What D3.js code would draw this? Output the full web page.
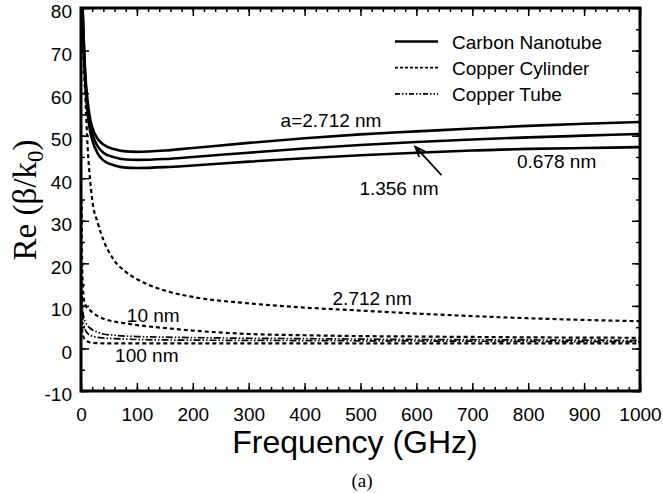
<!DOCTYPE html>
<html>
<head>
<meta charset="utf-8">
<script src="https://cdn.jsdelivr.net/npm/d3@7"></script>
<style>
  body { margin: 0; background: #fff; }
  svg { display: block; }
  text { font-family: "Liberation Sans", Arial, sans-serif; fill: #000; }
  .tick-label { font-size: 19px; }
  .serif { font-family: "Liberation Serif", "Times New Roman", serif; }
</style>
</head>
<body>
<div class="chart"></div>
<script>
// frequency samples (GHz)
const freqCNT = [2, 4, 6, 8, 10, 15, 20, 30, 40, 60, 80, 100, 150, 200, 300, 400, 500, 600, 700, 800, 900, 1000];
const freqCu = [1, 2, 4, 8, 12, 16, 20, 30, 40, 60, 80, 100, 150, 200, 300, 400, 500, 600, 700, 800, 900, 1000];

// carbon nanotube, Re(beta/k0)
const cnt2712 = [84, 76, 69, 64, 60.5, 55, 52, 49.2, 47.9, 46.8, 46.3, 46.2, 46.5, 47.1, 48.3, 49.4, 50.3, 51.0, 51.7, 52.3, 52.8, 53.2];
const cnt1356 = [83, 75, 68, 62.5, 59, 53.5, 50.5, 47.5, 46.0, 44.9, 44.4, 44.3, 44.5, 45.0, 46.0, 47.0, 47.8, 48.5, 49.1, 49.6, 50.0, 50.4];
const cnt0678 = [82, 74, 67, 61.5, 58, 52, 49, 45.8, 44.2, 43.0, 42.5, 42.4, 42.6, 43.0, 43.9, 44.7, 45.4, 46.0, 46.5, 46.9, 47.1, 47.3];

// copper cylinder
const cyl2712 = [95, 80, 70, 58.5, 47, 40, 35, 29.5, 25.5, 20.6, 18, 16.3, 13.6, 12.1, 10.6, 9.6, 8.9, 8.2, 7.6, 7.1, 6.7, 6.4];
const cyl10 = [35, 20, 13, 10.2, 9.5, 9, 8.5, 7.6, 7, 6.3, 5.9, 5.5, 4.8, 4.2, 3.4, 3.1, 2.9, 2.8, 2.7, 2.6, 2.55, 2.5];
const cyl100 = [8, 4.5, 2.8, 2.0, 1.6, 1.4, 1.3, 1.25, 1.2, 1.2, 1.2, 1.2, 1.2, 1.2, 1.2, 1.2, 1.2, 1.2, 1.2, 1.2, 1.2, 1.2];

// copper tube
const tube10 = [20, 12, 8, 6.2, 5.3, 4.8, 4.4, 3.8, 3.4, 3.1, 2.9, 2.8, 2.65, 2.55, 2.4, 2.3, 2.2, 2.1, 2.05, 2.0, 1.95, 1.9];
const tube100 = [12, 8.5, 6.2, 4.3, 3.5, 3.1, 2.9, 2.6, 2.45, 2.3, 2.2, 2.1, 2.0, 1.95, 1.9, 1.85, 1.8, 1.75, 1.7, 1.65, 1.6, 1.6];

const xTicks = d3.range(0, 1001, 100);
const xMinor = d3.range(0, 1001, 20);
const yTicks = d3.range(-10, 81, 10);
const yMinor = d3.range(-10, 81, 5);

const legendLabels = ['Carbon Nanotube', 'Copper Cylinder', 'Copper Tube'];

// annotations: text, frequency, value
const notes = [
  { text: 'a=2.712 nm', f: 357, v: 52.1 },
  { text: '0.678 nm', f: 780, v: 42.3 },
  { text: '1.356 nm', f: 498, v: 36.1 },
  { text: '2.712 nm', f: 450, v: 10.3 },
  { text: '10 nm', f: 82, v: 6.2 },
  { text: '100 nm', f: 61, v: -3.3 }
];

const W = 663, H = 493;
const m = { left: 81, right: 640, top: 8, bottom: 391 };

const styles = {
  cnt: { dash: null, width: 2.6 },
  cyl: { dash: '4,3', width: 2.2 },
  tube: { dash: '7,2,1.5,2,1.5,2', width: 1.7 }
};

const series = [
  { kind: 'cnt', f: freqCNT, v: cnt2712 },
  { kind: 'cnt', f: freqCNT, v: cnt1356 },
  { kind: 'cnt', f: freqCNT, v: cnt0678 },
  { kind: 'cyl', f: freqCu, v: cyl2712 },
  { kind: 'cyl', f: freqCu, v: cyl10 },
  { kind: 'cyl', f: freqCu, v: cyl100 },
  { kind: 'tube', f: freqCu, v: tube10 },
  { kind: 'tube', f: freqCu, v: tube100 }
];

const x = d3.scaleLinear().domain([0, 1000]).range([m.left, m.right]);
const y = d3.scaleLinear().domain([-10, 80]).range([m.bottom, m.top]);

const svg = d3.select('.chart')
  .append('svg')
    .attr('width', W)
    .attr('height', H);

svg.append('defs').append('clipPath')
  .attr('id', 'plot-clip')
  .append('rect')
    .attr('x', m.left)
    .attr('y', m.top)
    .attr('width', m.right - m.left)
    .attr('height', m.bottom - m.top);

//curves
const line = d3.line()
  .x(d => x(d[0]))
  .y(d => y(d[1]))
  .curve(d3.curveMonotoneX);

svg.append('g')
  .attr('clip-path', 'url(#plot-clip)')
  .selectAll('path')
  .data(series)
  .enter().append('path')
    .attr('d', s => line(s.f.map((f, i) => [f, s.v[i]])))
    .attr('fill', 'none')
    .attr('stroke', '#000')
    .attr('stroke-width', s => styles[s.kind].width)
    .attr('stroke-dasharray', s => styles[s.kind].dash);

//axes, ticks point inward
function styleAxis (g) {
  g.select('.domain').remove();
  g.selectAll('.tick line').attr('stroke', '#000').attr('stroke-width', 1.5);
  g.selectAll('.tick text').attr('class', 'tick-label').attr('font-family', null).attr('font-size', null);
}

// plain hyphen for negatives, like the original
const plain = d => String(d);

svg.append('g')
  .attr('transform', `translate(0,${m.bottom})`)
  .call(d3.axisBottom(x).tickValues(xMinor).tickSize(-4).tickFormat(''))
  .call(styleAxis);
svg.append('g')
  .attr('transform', `translate(0,${m.bottom})`)
  .call(d3.axisBottom(x).tickValues(xTicks).tickSize(-8).tickPadding(17).tickFormat(plain))
  .call(styleAxis);
svg.append('g')
  .attr('transform', `translate(0,${m.top})`)
  .call(d3.axisTop(x).tickValues(xMinor).tickSize(-4).tickFormat(''))
  .call(styleAxis);
svg.append('g')
  .attr('transform', `translate(0,${m.top})`)
  .call(d3.axisTop(x).tickValues(xTicks).tickSize(-8).tickFormat(''))
  .call(styleAxis);

svg.append('g')
  .attr('transform', `translate(${m.left},0)`)
  .call(d3.axisLeft(y).tickValues(yMinor).tickSize(-4).tickFormat(''))
  .call(styleAxis);
svg.append('g')
  .attr('transform', `translate(${m.left},0)`)
  .call(d3.axisLeft(y).tickValues(yTicks).tickSize(-8).tickPadding(9).tickFormat(plain))
  .call(styleAxis)
  .selectAll('text').attr('dy', '0.52em');
svg.append('g')
  .attr('transform', `translate(${m.right},0)`)
  .call(d3.axisRight(y).tickValues(yMinor).tickSize(-4).tickFormat(''))
  .call(styleAxis);
svg.append('g')
  .attr('transform', `translate(${m.right},0)`)
  .call(d3.axisRight(y).tickValues(yTicks).tickSize(-8).tickFormat(''))
  .call(styleAxis);

//frame
svg.append('rect')
  .attr('x', m.left)
  .attr('y', m.top)
  .attr('width', m.right - m.left)
  .attr('height', m.bottom - m.top)
  .attr('fill', 'none')
  .attr('stroke', '#000')
  .attr('stroke-width', 3);

//axis titles
svg.append('text')
  .attr('x', 355)
  .attr('y', 453)
  .attr('text-anchor', 'middle')
  .style('font-size', '32px')
  .text('Frequency (GHz)');

const yTitle = svg.append('text')
  .attr('class', 'serif')
  .attr('transform', 'translate(36,200) rotate(-90)')
  .attr('text-anchor', 'middle')
  .style('font-size', '33px');
yTitle.append('tspan').text('Re (β/k');
yTitle.append('tspan').attr('dy', 7).style('font-size', '23px').text('0');
yTitle.append('tspan').attr('dy', -7).text(')');

svg.append('text')
  .attr('class', 'serif')
  .attr('x', 362)
  .attr('y', 487)
  .attr('text-anchor', 'middle')
  .style('font-size', '19px')
  .text('(a)');

//legend
const legend = svg.append('g')
  .selectAll('g')
  .data(legendLabels)
  .enter().append('g')
    .attr('transform', (d, i) => `translate(395,${41.5 + i * 26.2})`);

legend.append('line')
  .attr('x1', 0)
  .attr('x2', 43)
  .attr('stroke', '#000')
  .attr('stroke-width', (d, i) => [2.4, 1.8, 1.6][i])
  .attr('stroke-dasharray', (d, i) => [null, '3,2', '5,2,1.5,2,1.5,2'][i]);

legend.append('text')
  .attr('x', 57)
  .attr('y', 7)
  .style('font-size', '19px')
  .text(d => d);

//annotations
svg.selectAll('.note')
  .data(notes)
  .enter().append('text')
    .attr('class', 'note')
    .attr('x', d => x(d.f))
    .attr('y', d => y(d.v))
    .style('font-size', '19px')
    .text(d => d.text);

//arrow for 1.356 nm
const a0 = [645, 40.7], a1 = [598, 47.4];
const ax0 = x(a0[0]), ay0 = y(a0[1]), ax1 = x(a1[0]), ay1 = y(a1[1]);
const ang = Math.atan2(ay0 - ay1, ax0 - ax1);
const head = 11, spread = 0.38;
svg.append('path')
  .attr('d', `M${ax0},${ay0}L${ax1},${ay1}` +
    `M${ax1 + head * Math.cos(ang - spread)},${ay1 + head * Math.sin(ang - spread)}` +
    `L${ax1},${ay1}L${ax1 + head * Math.cos(ang + spread)},${ay1 + head * Math.sin(ang + spread)}`)
  .attr('fill', 'none')
  .attr('stroke', '#000')
  .attr('stroke-width', 1.8);
</script>
</body>
</html>
